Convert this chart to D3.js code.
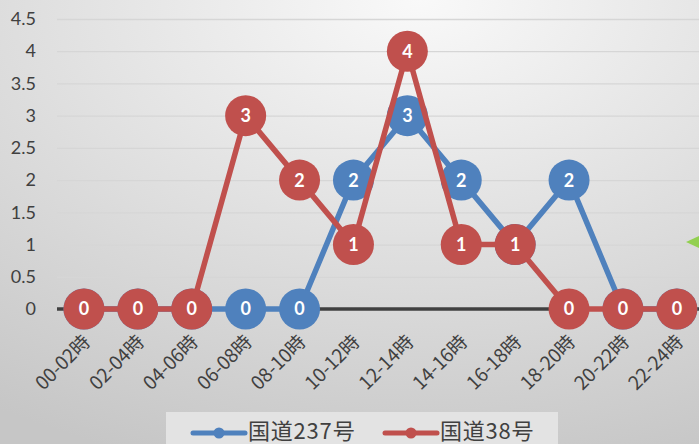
<!DOCTYPE html>
<html>
<head>
<meta charset="utf-8">
<script src="https://cdn.jsdelivr.net/npm/d3@7"></script>
<style>
  body { margin: 0; }
  svg { display: block; }
</style>
</head>
<body>
<div id="chart"></div>
<script>
// データ
var categories = ["00-02時","02-04時","04-06時","06-08時","08-10時","10-12時",
                  "12-14時","14-16時","16-18時","18-20時","20-22時","22-24時"];
var route237 = [0,0,0,0,0,2,3,2,1,2,0,0];
var route38  = [0,0,0,3,2,1,4,1,1,0,0,0];
var yTicks = [0,0.5,1,1.5,2,2.5,3,3.5,4,4.5];
var seriesNames = ["国道237号","国道38号"];

var width = 699, height = 444;
var left = 57;
var colors = ["#4f81bd", "#c0504d"];

var svg = d3.select("#chart").append("svg")
  .attr("width", width).attr("height", height);

var defs = svg.append("defs");
var bg = defs.append("radialGradient").attr("id", "bg")
  .attr("cx", "60%").attr("cy", "0%").attr("r", "110%");
bg.append("stop").attr("offset", "0%").attr("stop-color", "#f9f9f9");
bg.append("stop").attr("offset", "100%").attr("stop-color", "#c6c6c6");

var gridGrad = defs.append("linearGradient").attr("id", "grid")
  .attr("gradientUnits", "userSpaceOnUse")
  .attr("x1", 0).attr("y1", 0).attr("x2", 0).attr("y2", 310);
gridGrad.append("stop").attr("offset", "0%").attr("stop-color", "#d6d6d6");
gridGrad.append("stop").attr("offset", "100%").attr("stop-color", "#9c9c9c");

svg.append("rect").attr("width", width).attr("height", height).attr("fill", "url(#bg)");

// scales
var x = d3.scalePoint().domain(categories).range([left, left + 12 * 53.9]).padding(0.5);
var y = d3.scaleLinear().domain([0, 4.5]).range([309, 19]);

// y axis + gridlines
var yAxis = svg.append("g")
  .attr("transform", "translate(" + left + ",0)")
  .call(d3.axisLeft(y).tickValues(yTicks).tickSize(-(width - left)).tickPadding(21)
    .tickFormat(function(d) { return String(d); }));
yAxis.select(".domain").remove();
yAxis.selectAll("line").attr("stroke", "url(#grid)").attr("stroke-width", 1.3);
yAxis.selectAll("text")
  .attr("fill", "#404040")
  .style("font-family", "Lato, 'Open Sans', sans-serif")
  .style("font-size", "18px");

// zero line
svg.append("line")
  .attr("x1", left).attr("x2", width)
  .attr("y1", y(0)).attr("y2", y(0))
  .attr("stroke", "#404040").attr("stroke-width", 3.5);

// x labels
var xAxis = svg.append("g")
  .attr("transform", "translate(0," + y(0) + ")")
  .call(d3.axisBottom(x).tickSize(0).tickPadding(0));
xAxis.select(".domain").remove();
xAxis.selectAll("text")
  .attr("fill", "#404040")
  .attr("text-anchor", "end")
  .attr("dy", null)
  .attr("y", 0)
  .attr("transform", "translate(7,34) rotate(-45)")
  .style("font-family", "'Noto Sans CJK JP', sans-serif")
  .style("font-size", "19px");

// series
var series = [route237, route38];
var line = d3.line()
  .x(function(d, i) { return x(categories[i]); })
  .y(function(d) { return y(d); });

series.forEach(function(vals, s) {
  var g = svg.append("g");
  g.append("path").datum(vals)
    .attr("fill", "none")
    .attr("stroke", colors[s])
    .attr("stroke-width", 5.5)
    .attr("stroke-linejoin", "round")
    .attr("d", line);
  var pts = g.selectAll("g.pt").data(vals).enter().append("g")
    .attr("transform", function(d, i) { return "translate(" + x(categories[i]) + "," + y(d) + ")"; });
  pts.append("circle").attr("r", 20.5).attr("fill", colors[s]);
  pts.append("text")
    .attr("text-anchor", "middle")
    .attr("dy", "0.36em")
    .attr("fill", "#ffffff")
    .style("font-family", "Lato, 'Open Sans', sans-serif")
    .style("font-weight", "bold")
    .style("font-size", "18px")
    .text(function(d) { return d; });
});

// green marker at right edge
svg.append("path")
  .attr("d", "M686,242 L699,236 L699,248 Z")
  .attr("fill", "#92d050");

// legend
svg.append("rect")
  .attr("x", 166).attr("y", 412).attr("width", 392).attr("height", 32)
  .attr("fill", "#e3e3e3");

var legendX = [193, 385];
seriesNames.forEach(function(name, s) {
  var lg = svg.append("g").attr("transform", "translate(" + legendX[s] + ",433)");
  lg.append("line").attr("x1", 0).attr("x2", 52)
    .attr("stroke", colors[s]).attr("stroke-width", 5).attr("stroke-linecap", "round");
  lg.append("circle").attr("cx", 26).attr("r", 5.5).attr("fill", colors[s]);
  lg.append("text")
    .attr("x", 55).attr("y", 6)
    .attr("fill", "#404040")
    .style("font-family", "'Noto Sans CJK JP', sans-serif")
    .style("font-size", "22px")
    .style("letter-spacing", "0.8px")
    .text(name);
});
</script>
</body>
</html>
